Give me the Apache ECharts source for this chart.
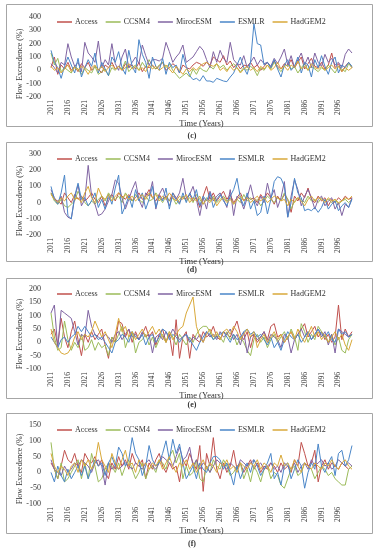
<!DOCTYPE html>
<html><head><meta charset="utf-8">
<script src="https://cdn.jsdelivr.net/npm/echarts@6/dist/echarts.min.js"></script>
<style>html,body{margin:0;padding:0;background:#fff}#chart{width:383px;height:550px}</style>
</head><body><div id="chart"></div>
<script>
// ---- categories / labels ----
const years = []; for (let y = 2011; y <= 2100; y++) years.push(String(y));
const seriesNames = ['Access', 'CCSM4', 'MirocESM', 'ESMLR', 'HadGEM2'];
const panelLabels = ['(c)', '(d)', '(e)', '(f)'];
const yMin = [-200, -200, -100, -100];
const yMax = [400, 300, 200, 150];
const yStep = [100, 100, 50, 50];
const yTitle = 'Flow Exceedence (%)';
const xTitle = 'Time (Years)';

// ---- panel (c) ----
const c_access = [20,100,-30,40,10,60,0,30,-10,50, 20,60,0,30,10,-20,40,20,60,10, 30,0,50,20,40,10,60,-10,30,20, 40,10,30,60,0,20,50,30,-20,40, 20,10,40,60,50,30,60,40,100,80, 60,110,40,70,20,50,10,40,30,60, 20,40,0,30,60,20,70,30,10,50, 30,80,20,60,100,10,50,90,30,20, 60,10,40,130,20,50,-10,30,60,20];
const c_ccsm4 = [130,40,90,-10,20,0,-20,30,10,-30, 20,0,-20,30,-30,-10,10,-40,20,0, 30,10,70,-10,20,40,0,60,20,80, 30,10,40,60,20,50,0,-30,-60,-40, -20,-50,10,-30,20,0,-10,30,10,50, 20,40,0,30,50,20,-10,20,0,30, 10,-40,20,0,40,10,60,20,-10,30, 40,10,30,-20,20,50,0,30,10,-10, 20,0,40,10,-20,30,10,-10,50,20];
const c_miroc = [50,20,-20,60,40,200,100,30,60,-10, 210,130,100,60,220,20,80,40,200,50, 0,100,160,20,60,100,50,190,110,40, 80,80,70,90,210,140,60,100,130,190, 60,80,100,140,180,150,80,20,140,60, 150,90,60,210,80,50,40,110,20,60, 100,40,80,50,60,30,90,50,100,160, 40,110,20,80,130,40,100,20,130,60, 30,120,60,90,40,60,20,120,160,130];
const c_esmlr = [150,60,20,-60,30,100,40,-20,90,-50, 20,80,30,130,-20,60,10,-40,100,60, 140,20,-30,150,30,-20,230,120,60,-60, 100,30,0,90,-30,60,20,40,-20,120, 30,-40,-70,-60,-80,-40,-80,-80,-90,-60, -70,-80,-85,-50,-20,40,100,20,-30,60, 350,200,190,40,60,20,80,10,-50,40, 80,0,30,100,-20,60,40,-50,80,20, 110,30,-30,60,100,-20,40,20,60,30];
const c_had = [30,0,20,-20,10,40,-10,20,0,30, 10,-30,20,40,0,30,-10,20,40,10, 30,0,20,50,10,30,0,20,-10,40, 10,30,0,20,40,10,-20,30,0,-30, 10,-10,20,0,30,50,60,40,30,50, 0,20,-10,30,0,20,-20,10,30,0, 20,-10,30,10,40,0,20,60,10,30, 0,40,20,70,10,30,0,50,20,10, 30,0,20,40,10,30,-10,20,0,20];

// ---- panel (d) ----
const d_access = [60,20,10,-10,60,30,0,50,20,40, 10,30,60,20,0,40,-20,30,50,10, 60,40,20,50,10,30,60,20,40,80, 30,10,50,20,40,10,60,30,0,40, 20,50,10,30,-30,40,100,20,60,10, 40,70,20,50,0,30,60,10,40,20, 30,0,50,20,60,30,-10,40,10,50, 20,-60,40,10,60,30,90,20,0,40, 10,30,-20,20,0,30,10,40,20,30];
const d_ccsm4 = [60,10,-10,20,-20,-30,-10,10,70,30, 0,-20,10,-10,20,40,10,60,30,20, 40,0,60,30,10,50,20,0,40,10, 20,60,30,0,40,10,30,-10,20,40, 10,30,0,50,20,-10,30,10,40,0, 20,40,10,30,-10,20,0,50,10,30, 0,20,-20,10,40,20,0,30,10,60, 20,-40,10,30,20,0,40,10,20,0, 30,10,20,0,20,-10,10,20,0,20];
const d_miroc = [80,30,0,40,-60,-90,-100,30,110,-20, 20,230,40,-10,-80,-70,-40,10,50,140, 120,30,-40,20,80,130,20,-30,60,40, 130,-40,50,90,30,-20,40,20,60,150, 30,50,100,20,-80,30,-40,70,10,40, 60,20,-30,80,-80,40,20,-40,30,110, 20,-20,40,0,120,30,80,-30,30,130, -90,40,140,80,-20,40,80,30,-40,20, 40,-20,10,30,-40,0,-80,-10,-30,30];
const d_esmlr = [100,20,-10,60,170,-80,-100,40,120,20, 30,-20,10,60,-30,20,-40,50,-10,90, 170,-70,-20,40,-30,80,10,60,-40,20, 100,-30,40,10,90,-40,60,20,-10,60, 0,60,20,80,-20,40,10,60,-30,20, 50,10,-20,40,80,150,30,-20,60,-40, 10,-80,-60,40,-70,20,130,160,150,100, -90,0,150,60,30,-50,-40,-50,-30,-60, -30,20,-40,-10,10,-50,-20,0,-30,20];
const d_had = [50,20,0,30,10,40,60,20,30,0, 60,100,30,0,90,40,20,50,10,40, 60,30,50,20,40,10,30,50,20,60, 30,50,10,40,20,60,30,10,40,20, 50,0,30,10,40,-10,20,0,30,-20, 10,30,0,20,-10,20,40,10,30,0, 20,40,10,30,0,20,40,30,10,20, -20,20,0,30,10,-20,20,40,10,30, 20,0,30,10,20,0,10,30,20,40];

// ---- panel (e) ----
const e_access = [30,50,-10,90,20,-20,40,80,10,-50, 30,0,40,10,30,50,-10,-60,20,0, 80,70,20,50,0,40,10,30,60,20, 40,-10,30,50,0,30,-50,85,-60,20, 40,-60,30,10,0,40,20,30,60,20, 10,40,30,20,50,80,30,10,40,-20, 30,0,20,40,10,60,70,20,30,0, 20,40,10,30,50,70,20,40,60,20, 40,10,30,0,20,140,10,50,20,40];
const e_ccsm4 = [110,20,-30,-20,80,10,-30,0,-20,30, -30,-20,10,-30,0,-20,-10,-50,20,0, 30,60,-20,20,40,-40,0,10,30,-10, 20,-20,10,30,0,40,20,-10,30,10, -10,20,0,30,50,60,60,40,10,30, 20,0,40,10,30,-10,20,0,-30,-50, 10,30,0,20,-20,10,30,0,20,40, 10,50,20,-30,70,40,0,30,10,60, 40,20,0,30,-10,20,-30,-40,10,30];
const e_miroc = [110,140,-20,120,110,100,90,40,-10,30, 20,120,60,30,20,10,30,20,0,30, 40,10,30,50,20,30,10,40,20,30, -40,20,30,10,40,20,50,30,10,20, 30,0,20,10,30,0,40,20,30,10, 40,20,30,50,10,30,-10,40,-40,20, 30,10,20,40,0,30,20,10,-20,30, 20,-40,10,30,50,20,40,10,30,50, 20,40,-10,30,-40,50,40,30,20,30];
const e_esmlr = [20,0,-20,10,20,0,20,30,60,40, 60,40,20,30,10,20,0,-20,-40,0, 10,30,20,0,40,20,10,30,-10,20, 30,0,20,50,40,10,30,20,0,20, 30,10,-10,-30,0,20,40,30,10,20, 30,40,20,0,30,10,20,40,50,30, 40,20,30,10,-10,20,-20,0,-30,10, 40,20,10,30,0,20,40,10,30,50, 30,20,40,10,0,50,30,40,20,30];
const e_had = [50,0,-20,-40,-45,-40,-20,20,40,10, 30,20,40,80,50,20,40,10,-20,30, 90,40,60,20,40,10,30,50,20,40, 60,30,50,20,0,40,10,30,50,60, 110,140,170,60,20,0,30,50,20,40, 10,40,50,30,60,40,10,30,50,20, 40,-20,10,30,0,20,40,10,30,0, 20,40,10,50,20,0,30,60,20,40, 10,30,0,20,40,10,30,-10,-30,10];

// ---- panel (f) ----
const f_access = [30,10,-20,20,70,40,30,60,20,0, 60,40,30,50,20,40,0,-20,30,10, 50,20,40,10,60,30,20,40,-20,30, 10,40,60,20,0,30,10,20,-30,40, 20,60,30,10,85,-60,60,20,110,10, -20,30,0,20,70,10,30,0,20,40, 10,30,0,20,10,30,20,0,30,10, 20,0,40,20,95,60,20,30,70,-30, 20,40,10,30,20,10,30,20,10,20];
const f_ccsm4 = [95,10,-20,30,-30,-20,0,20,40,-20, 30,-20,60,20,-30,-20,10,30,20,0, 30,-10,20,40,10,-20,0,30,-20,10, 20,0,40,30,10,50,70,30,60,-20, 20,-10,0,40,-20,-30,20,0,40,20, 10,40,20,-10,0,20,30,-20,10,-30, 20,0,-30,10,20,-20,0,-10,-40,-50, -20,10,20,-10,0,30,20,10,-20,0, 20,10,-10,0,-20,-30,-40,-40,10,20];
const f_miroc = [40,10,0,-10,20,0,10,30,20,40, 30,20,0,30,40,20,-40,30,10,20, 10,20,30,20,10,30,20,10,30,40, 20,10,30,50,40,30,20,50,80,40, 50,80,20,40,10,30,20,0,20,40, 30,20,10,30,20,10,40,30,20,30, 40,20,30,10,20,30,10,20,0,30, 20,10,30,0,20,30,10,40,20,30, 40,20,30,10,20,40,30,20,30,20];
const f_esmlr = [0,-30,20,-10,-30,10,-20,0,20,-10, 20,-20,10,40,20,30,-10,30,50,20, 80,60,20,40,110,60,40,-10,20,85, 40,20,30,60,100,40,105,60,90,30, -20,0,20,-20,30,10,0,30,50,50, 40,10,30,0,-40,20,-20,10,30,0, 40,20,-10,10,30,60,-20,0,-40,20, 30,-20,10,40,20,-50,0,30,10,90, 20,0,30,50,-10,60,70,20,40,85];
const f_had = [60,20,0,20,10,-10,20,30,0,40, 20,40,10,30,95,40,20,0,60,30, 10,40,70,20,30,0,40,20,30,10, 30,20,40,10,30,50,20,0,30,20, 40,10,30,0,20,40,10,30,20,0, 30,20,40,10,20,0,30,20,10,30, 20,40,10,30,20,0,30,20,55,20, 30,10,40,20,0,30,20,10,30,20, 10,30,20,40,20,10,30,40,20,10];

const panelData = [
  [c_access, c_ccsm4, c_miroc, c_esmlr, c_had],
  [d_access, d_ccsm4, d_miroc, d_esmlr, d_had],
  [e_access, e_ccsm4, e_miroc, e_esmlr, e_had],
  [f_access, f_ccsm4, f_miroc, f_esmlr, f_had]
];

// ---- layout & style ----
const colors = ['#C0504D', '#9BBB59', '#8064A2', '#4A86C8', '#D9A93A'];
const FONT = '"Liberation Serif", "DejaVu Serif", serif';
const TXT = '#333333';
const gridTop = [17, 154, 289, 425];
const gridH = [80, 81, 80, 79];
const boxTop = [4, 142, 278, 413];
const boxBottom = [126, 261, 398, 533];
const capY = [136, 270, 405, 544];
const yNameY = [64, 201, 334, 469];

const grids = [], xAxes = [], yAxes = [], legends = [], series = [], graphics = [];
for (let p = 0; p < 4; p++) {
  grids.push({ left: 51, width: 301, top: gridTop[p], height: gridH[p], outerBoundsMode: 'none', containLabel: false });
  xAxes.push({
    type: 'category', gridIndex: p, data: years, boundaryGap: false,
    axisLine: { show: false }, axisTick: { show: false }, splitLine: { show: false },
    axisLabel: { interval: 4, rotate: 90, fontSize: 7.5, fontFamily: FONT, color: TXT, margin: 3 },
    name: xTitle, nameLocation: 'middle', nameGap: 19,
    nameTextStyle: { fontSize: 8.5, fontFamily: FONT, color: TXT, verticalAlign: 'top' }
  });
  yAxes.push({
    type: 'value', gridIndex: p, min: yMin[p], max: yMax[p], interval: yStep[p],
    axisLine: { show: false }, axisTick: { show: false }, splitLine: { show: false },
    axisLabel: { fontSize: 8, fontFamily: FONT, color: TXT, margin: 10 }
  });
  legends.push({
    data: seriesNames.map(n => ({ name: n, icon: 'rect' })),
    left: 52, top: gridTop[p] - 4, itemWidth: 15, itemHeight: 1.5, itemGap: 8,
    textStyle: { fontSize: 8, fontFamily: FONT, color: TXT, padding: [0, 0, 0, -2] }
  });
  for (let s = 0; s < 5; s++) {
    series.push({
      type: 'line', name: seriesNames[s], xAxisIndex: p, yAxisIndex: p,
      data: panelData[p][s], symbol: 'none', showSymbol: false,
      lineStyle: { width: 1, color: colors[s] }, itemStyle: { color: colors[s] },
      animation: false
    });
  }
  graphics.push({
    type: 'rect', shape: { x: 6.5, y: boxTop[p] + 0.5, width: 366, height: boxBottom[p] - boxTop[p] },
    style: { fill: 'none', stroke: '#a6a6a6', lineWidth: 1 }, silent: true
  });
  graphics.push({
    type: 'text', x: 20, y: yNameY[p], rotation: Math.PI / 2,
    style: { text: yTitle, fontSize: 8, fontFamily: FONT, fill: TXT, textAlign: 'center', textVerticalAlign: 'middle' }
  });
  graphics.push({
    type: 'text', x: 192, y: capY[p],
    style: { text: panelLabels[p], fontSize: 8, fontWeight: 'bold', fontFamily: FONT, fill: TXT, textAlign: 'center', textVerticalAlign: 'middle' }
  });
}

const chart = echarts.init(document.getElementById('chart'), null, { renderer: 'canvas' });
chart.setOption({
  animation: false,
  backgroundColor: '#ffffff',
  grid: grids, xAxis: xAxes, yAxis: yAxes, legend: legends,
  series: series, graphic: graphics
});
</script>
</body></html>
